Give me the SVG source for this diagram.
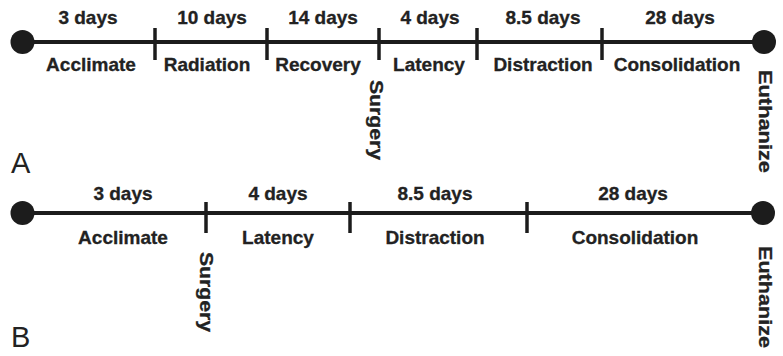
<svg xmlns="http://www.w3.org/2000/svg" width="783" height="356" viewBox="0 0 783 356">
<style>
.ln{stroke:#1c1c1c;stroke-width:4;fill:none}
.tk{stroke:#1c1c1c;stroke-width:3.5;fill:none}
.dot{fill:#1c1c1c}
.t{font-family:"Liberation Sans",Arial,sans-serif;font-weight:bold;font-size:19px;fill:#222;stroke:#222;stroke-width:0.3;text-anchor:middle}
.v{font-family:"Liberation Sans",Arial,sans-serif;font-weight:bold;font-size:18px;fill:#222;stroke:#222;stroke-width:0.3}
.big{font-family:"Liberation Sans",Arial,sans-serif;font-size:29px;fill:#222}
</style>
<rect width="783" height="356" fill="#fff"/>
<g id="connectors">
<line class="ln" x1="22.5" y1="42" x2="764" y2="42"/>
<line class="tk" x1="155" y1="28" x2="155" y2="60"/>
<line class="tk" x1="267" y1="28" x2="267" y2="60"/>
<line class="tk" x1="379" y1="28" x2="379" y2="60"/>
<line class="tk" x1="477" y1="28" x2="477" y2="60"/>
<line class="tk" x1="602" y1="28" x2="602" y2="60"/>
<line class="ln" x1="22.5" y1="213" x2="763" y2="213"/>
<line class="tk" x1="206" y1="202" x2="206" y2="233"/>
<line class="tk" x1="350" y1="202" x2="350" y2="233"/>
<line class="tk" x1="527" y1="202" x2="527" y2="233"/>
</g>
<g id="panelA">
<g id="a-start"><circle class="dot" cx="22.5" cy="42" r="12"/></g>
<g id="a-end"><circle class="dot" cx="764" cy="42" r="12"/></g>
<g id="a-acclimate"><text class="t" x="88" y="24">3 days</text><text class="t" x="91" y="71">Acclimate</text></g>
<g id="a-radiation"><text class="t" x="212" y="24">10 days</text><text class="t" x="207" y="71">Radiation</text></g>
<g id="a-recovery"><text class="t" x="323" y="24">14 days</text><text class="t" x="318" y="71">Recovery</text></g>
<g id="a-latency"><text class="t" x="430" y="24">4 days</text><text class="t" x="429" y="71">Latency</text></g>
<g id="a-distraction"><text class="t" x="543" y="24">8.5 days</text><text class="t" x="543" y="71">Distraction</text></g>
<g id="a-consolidation"><text class="t" x="680" y="24">28 days</text><text class="t" x="677" y="71">Consolidation</text></g>
<g id="a-surgery"><text class="v" transform="translate(370,80) rotate(90)" textLength="80" lengthAdjust="spacingAndGlyphs">Surgery</text></g>
<g id="a-euthanize"><text class="v" transform="translate(759,70) rotate(90)" textLength="103" lengthAdjust="spacingAndGlyphs">Euthanize</text></g>
<text class="big" x="11" y="173">A</text>
</g>
<g id="panelB">
<g id="b-start"><circle class="dot" cx="22.5" cy="213" r="12"/></g>
<g id="b-end"><circle class="dot" cx="763" cy="213" r="12"/></g>
<g id="b-acclimate"><text class="t" x="123" y="200">3 days</text><text class="t" x="123" y="244">Acclimate</text></g>
<g id="b-latency"><text class="t" x="278" y="200">4 days</text><text class="t" x="278" y="244">Latency</text></g>
<g id="b-distraction"><text class="t" x="435" y="200">8.5 days</text><text class="t" x="435" y="244">Distraction</text></g>
<g id="b-consolidation"><text class="t" x="633" y="200">28 days</text><text class="t" x="635" y="244">Consolidation</text></g>
<g id="b-surgery"><text class="v" transform="translate(200,252) rotate(90)" textLength="80" lengthAdjust="spacingAndGlyphs">Surgery</text></g>
<g id="b-euthanize"><text class="v" transform="translate(759,246) rotate(90)" textLength="102" lengthAdjust="spacingAndGlyphs">Euthanize</text></g>
<text class="big" x="11" y="347">B</text>
</g>
</svg>
